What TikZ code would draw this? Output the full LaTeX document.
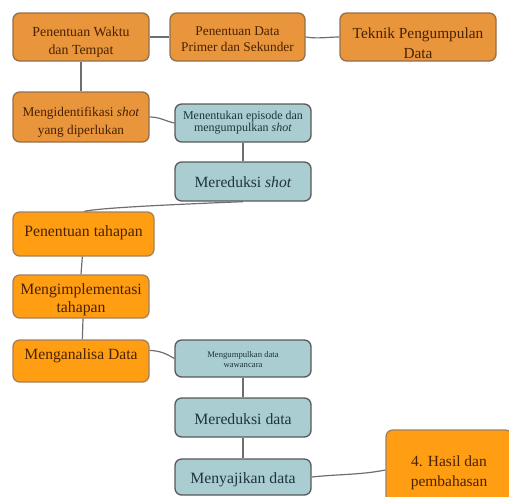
\documentclass[tikz,border=0pt]{standalone}
\usepackage{fontspec}
\setmainfont{Liberation Serif}
\usetikzlibrary{calc}
\definecolor{orA}{HTML}{E8953C}
\definecolor{orB}{HTML}{FF9E12}
\definecolor{tealF}{HTML}{A9CDD1}
\definecolor{brn}{HTML}{7A4A1E}
\definecolor{txtO}{HTML}{4A2200}
\definecolor{txtT}{HTML}{1E3440}
\definecolor{lnC}{HTML}{6E6E6E}
% #1: downward shift in px, #2: lines
\newcommand\tx[2]{\raisebox{\dimexpr-0.45em-#1\dimexpr0.75pt\relax\relax}[0pt][0pt]{\begin{tabular}{@{}c@{}}#2\end{tabular}}}
\newcommand\fs[2]{\fontsize{#1}{#2}\selectfont}
\begin{document}
\begin{tikzpicture}[x=0.75pt,y=-0.75pt,
  boxbase/.style={rounded corners=5pt, line width=1pt, inner sep=0pt, align=center},
  orbox/.style={boxbase, fill=orA, draw=brn!80, text=txtO},
  brbox/.style={boxbase, fill=orB, draw=brn!70, text=txtO},
  tlbox/.style={boxbase, fill=tealF, draw=gray!70!black, text=txtT},
  conn/.style={draw=lnC, line width=0.9pt}]
\useasboundingbox (0,0) rectangle (509,496);
\node[orbox, minimum width=136*0.75pt, minimum height=48*0.75pt, font=\fs{10.4}{13.5}] (a) at (81,37) {\tx{2}{Penentuan Waktu\\dan Tempat}};
\node[orbox, minimum width=135*0.75pt, minimum height=48*0.75pt, font=\fs{10}{12}] (b) at (237.5,37) {\tx{1}{Penentuan Data\\Primer dan Sekunder}};
\node[orbox, minimum width=156*0.75pt, minimum height=48*0.75pt, font=\fs{11.5}{15}] (c) at (418,37) {\tx{4.5}{Teknik Pengumpulan\\Data}};
\node[orbox, minimum width=136*0.75pt, minimum height=50*0.75pt, font=\fs{10}{13.5}] (d) at (81,117) {\tx{2}{Mengidentifikasi \textit{shot}\\yang diperlukan}};
\node[tlbox, minimum width=136*0.75pt, minimum height=38*0.75pt, font=\fs{9}{8.6}] (e) at (243,123) {\tx{-2.5}{Menentukan episode dan\\mengumpulkan \textit{shot}}};
\node[tlbox, minimum width=136*0.75pt, minimum height=39*0.75pt, font=\fs{11.7}{13}] (f) at (243,181.5) {\tx{0}{Mereduksi \textit{shot}}};
\node[brbox, minimum width=141*0.75pt, minimum height=44*0.75pt, font=\fs{11.8}{13}] (g) at (83.5,234) {\tx{-4}{Penentuan tahapan}};
\node[brbox, minimum width=136*0.75pt, minimum height=43*0.75pt, font=\fs{11.8}{13.5}] (h) at (81,296.5) {\tx{0}{Mengimplementasi\\tahapan}};
\node[brbox, minimum width=136*0.75pt, minimum height=42*0.75pt, font=\fs{11.7}{13}] (i) at (81,361) {\tx{-8}{Menganalisa Data}};
\node[tlbox, minimum width=136*0.75pt, minimum height=37*0.75pt, font=\fs{6.5}{7.5}] (j) at (243,358.5) {\tx{0}{Mengumpulkan data\\wawancara}};
\node[tlbox, minimum width=136*0.75pt, minimum height=39*0.75pt, font=\fs{11.8}{13}] (k) at (243,417.5) {\tx{0}{Mereduksi data}};
\node[tlbox, minimum width=136*0.75pt, minimum height=36*0.75pt, font=\fs{11.8}{13}] (l) at (243,477) {\tx{0}{Menyajikan data}};
\node[brbox, minimum width=126*0.75pt, minimum height=80*0.75pt, font=\fs{11.6}{15}] (m) at (449,470) {\tx{0}{4. Hasil dan\\pembahasan}};
% connectors
\draw[conn] (a.east) -- (b.west);
\draw[conn] (b.east) .. controls (318,39) and (328,37) .. (c.west);
\draw[conn] (a.south) -- (d.north);
\draw[conn] (d.east) .. controls (160,117) and (165,121) .. (e.west);
\draw[conn] (e.south) -- (f.north);
\draw[conn] (f.south) .. controls (160,205) and (100,208) .. ($(g.north west)+(72,0)$);
\draw[conn] ($(g.south west)+(70,0)$) -- (h.north);
\draw[conn] ($(h.south)+(2,0)$) -- ($(i.north west)+(70,0)$);
\draw[conn] ($(i.north east)+(0,11)$) .. controls (160,351) and (165,353) .. (j.west);
\draw[conn] (j.south) -- (k.north);
\draw[conn] (k.south) -- (l.north);
\draw[conn] (l.east) .. controls (340,474) and (360,475) .. (m.west);
\end{tikzpicture}
\end{document}
